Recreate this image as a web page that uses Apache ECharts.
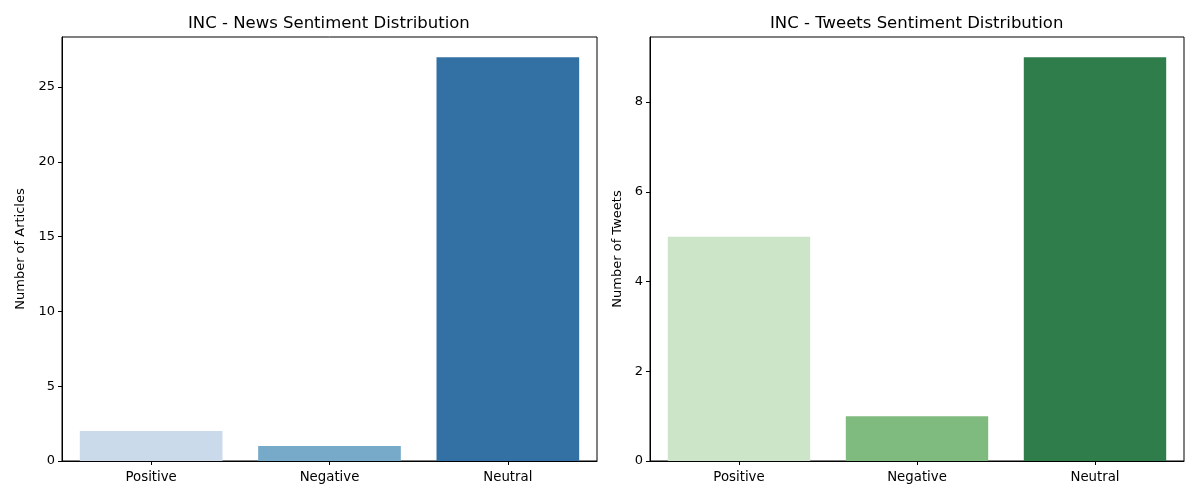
<!DOCTYPE html>
<html>
<head>
<meta charset="utf-8">
<script src="https://cdn.jsdelivr.net/npm/echarts@6/dist/echarts.min.js"></script>
<style>
  html, body { margin: 0; padding: 0; background: #fff; }
  #chart { width: 1200px; height: 500px; }
</style>
</head>
<body>
<div id="chart"></div>
<script>
// data
const categories = ['Positive', 'Negative', 'Neutral'];
const newsCounts = [2, 1, 27];
const tweetCounts = [5, 1, 9];
const newsColors = ['#cbdaea', '#77a9c8', '#3370a3'];
const tweetColors = ['#cce4c8', '#7fba7e', '#2e7d4b'];

const font = 'DejaVu Sans';

function coloured(values, colors) {
    return values.map((v, i) => ({ value: v, itemStyle: { color: colors[i] } }));
}

function yAxis(idx, name, max, interval, gap) {
    return {
        type: 'value', gridIndex: idx, min: 0, max: max, interval: interval,
        name: name, nameLocation: 'middle', nameGap: gap,
        nameTextStyle: { color: '#000', fontSize: 13, fontFamily: font },
        axisLine: { show: true, lineStyle: { color: '#000', width: 1 } },
        axisTick: { show: true, length: 4, lineStyle: { color: '#000' } },
        axisLabel: { color: '#000', fontSize: 13, fontFamily: font, margin: 7, showMaxLabel: false },
        splitLine: { show: false }
    };
}

function xAxis(idx) {
    return {
        type: 'category', gridIndex: idx, data: categories,
        axisLine: { show: true, lineStyle: { color: '#000', width: 1 } },
        axisTick: { show: true, alignWithLabel: true, length: 4, lineStyle: { color: '#000' } },
        axisLabel: { color: '#000', fontSize: 13.3, fontFamily: font, margin: 10 }
    };
}

const chart = echarts.init(document.getElementById('chart'));
chart.setOption({
    animation: false,
    title: [
        { text: 'INC - News Sentiment Distribution', left: 183, top: 10,
          textStyle: { fontSize: 16.5, fontWeight: 'normal', color: '#000', fontFamily: font } },
        { text: 'INC - Tweets Sentiment Distribution', left: 765, top: 10,
          textStyle: { fontSize: 16.5, fontWeight: 'normal', color: '#000', fontFamily: font } }
    ],
    grid: [
        { left: 62, top: 37, width: 535, height: 424, show: true, borderColor: '#000', borderWidth: 1 },
        { left: 650, top: 37, width: 534, height: 424, show: true, borderColor: '#000', borderWidth: 1 }
    ],
    xAxis: [xAxis(0), xAxis(1)],
    yAxis: [
        yAxis(0, 'Number of Articles', 28.35, 5, 35),
        yAxis(1, 'Number of Tweets', 9.45, 2, 26)
    ],
    series: [
        { type: 'bar', xAxisIndex: 0, yAxisIndex: 0, barCategoryGap: '20%',
          data: coloured(newsCounts, newsColors) },
        { type: 'bar', xAxisIndex: 1, yAxisIndex: 1, barCategoryGap: '20%',
          data: coloured(tweetCounts, tweetColors) }
    ]
});
</script>
</body>
</html>
